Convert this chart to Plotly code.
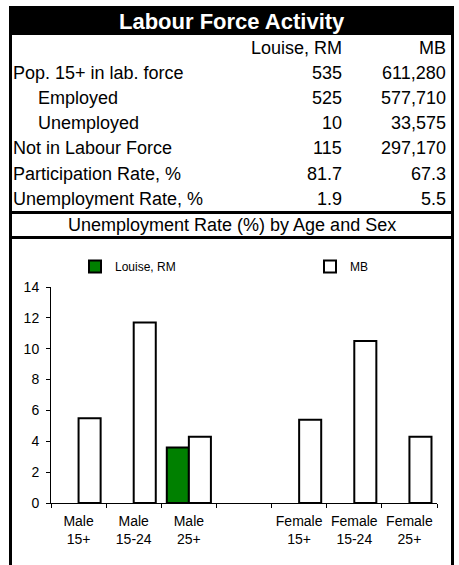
import plotly.graph_objects as go

# ---------------- data ----------------
title_text = "Labour Force Activity"
col_headers = ["Louise, RM", "MB"]
row_labels = ["Pop. 15+ in lab. force", "Employed", "Unemployed",
              "Not in Labour Force", "Participation Rate, %", "Unemployment Rate, %"]
row_indent = [False, True, True, False, False, False]
louise_vals = ["535", "525", "10", "115", "81.7", "1.9"]
mb_vals = ["611,280", "577,710", "33,575", "297,170", "67.3", "5.5"]
chart_title = "Unemployment Rate (%) by Age and Sex"

categories = ["Male<br>15+", "Male<br>15-24", "Male<br>25+", " ",
              "Female<br>15+", "Female<br>15-24", "Female<br>25+"]
louise_rates = [None, None, 3.6, None, None, None, None]
mb_rates = [5.5, 11.7, 4.3, None, 5.4, 10.5, 4.3]
series_names = ["Louise, RM", "MB"]
y_ticks = [0, 2, 4, 6, 8, 10, 12, 14]

# ---------------- layout geometry (pixels) ----------------
W, H = 459, 565
PL, PR, PT, PB = 51, 437, 287, 503   # plot area edges


def px(x):
    return (x - PL) / (PR - PL)


def py(y):
    return (PB - y) / (PB - PT)


FONT = "Liberation Sans, Arial, sans-serif"

fig = go.Figure()
fig.add_trace(go.Bar(x=categories, y=louise_rates, name=series_names[0], legend="legend",
                     marker=dict(color="#008000", line=dict(color="black", width=2))))
fig.add_trace(go.Bar(x=categories, y=mb_rates, name=series_names[1], legend="legend2",
                     marker=dict(color="white", line=dict(color="black", width=2))))

shapes = []
# title bar
shapes.append(dict(type="rect", xref="paper", yref="paper",
                   x0=px(9), x1=px(454), y0=py(6), y1=py(35),
                   fillcolor="black", line=dict(width=0), layer="below"))
# frame verticals
for xv in (10.5, 452.5):
    shapes.append(dict(type="line", xref="paper", yref="paper",
                       x0=px(xv), x1=px(xv), y0=py(6), y1=py(566),
                       line=dict(color="black", width=3)))
# horizontal separators
for yv in (212.5, 237.5):
    shapes.append(dict(type="line", xref="paper", yref="paper",
                       x0=px(9), x1=px(454), y0=py(yv), y1=py(yv),
                       line=dict(color="black", width=3)))

annotations = []


def ann(text, x, y, anchor, size=18, color="black", bold=False):
    annotations.append(dict(
        text=("<b>%s</b>" % text) if bold else text,
        xref="paper", yref="paper", x=px(x), y=py(y),
        xanchor=anchor, yanchor="middle", showarrow=False,
        borderpad=0, borderwidth=0,
        font=dict(family=FONT, size=size, color=color)))


ann(title_text, 231.5, 21, "center", size=22, color="white", bold=True)
ann(col_headers[0], 342, 48, "right")
ann(col_headers[1], 446, 48, "right")
row_y = [73, 98, 123, 148, 174, 199]
for lab, ind, lv, mv, yy in zip(row_labels, row_indent, louise_vals, mb_vals, row_y):
    ann(lab, 38 if ind else 13, yy, "left")
    ann(lv, 342, yy, "right")
    ann(mv, 446, yy, "right")
ann(chart_title, 231.5, 225, "center")


def legend_at(x, y):
    return dict(orientation="h", x=px(x), y=py(y), xanchor="left", yanchor="top",
                font=dict(family=FONT, size=12, color="black"),
                itemwidth=30, bgcolor="rgba(0,0,0,0)", borderwidth=0,
                itemclick=False, itemdoubleclick=False)


fig.update_layout(
    width=W, height=H,
    margin=dict(l=PL, r=W - PR, t=PT, b=H - PB, pad=0, autoexpand=False),
    paper_bgcolor="white", plot_bgcolor="white",
    font=dict(family=FONT, size=14, color="black"),
    barmode="group", bargap=0.2, bargroupgap=0,
    shapes=shapes, annotations=annotations,
    showlegend=True,
    legend=legend_at(75, 252),
    legend2=legend_at(310, 252),
    xaxis=dict(type="category", categoryorder="array", categoryarray=categories,
               range=[-0.5, 6.5], showline=True, linecolor="black", linewidth=1,
               ticks="outside", tickson="boundaries", ticklen=4, tickcolor="black",
               ticklabelstandoff=5, tickangle=0, automargin=False,
               showgrid=False, zeroline=False, fixedrange=True,
               tickfont=dict(family=FONT, size=14, color="black")),
    yaxis=dict(range=[0, 14], tickvals=y_ticks, showline=True, linecolor="black",
               linewidth=1, ticks="outside", ticklen=4, tickcolor="black",
               ticklabelstandoff=4, automargin=False,
               showgrid=False, zeroline=False, fixedrange=True,
               tickfont=dict(family=FONT, size=14, color="black")),
)

fig.write_html("out.html", config={"displayModeBar": False, "staticPlot": True},
               post_script="document.body.style.margin='0';")
